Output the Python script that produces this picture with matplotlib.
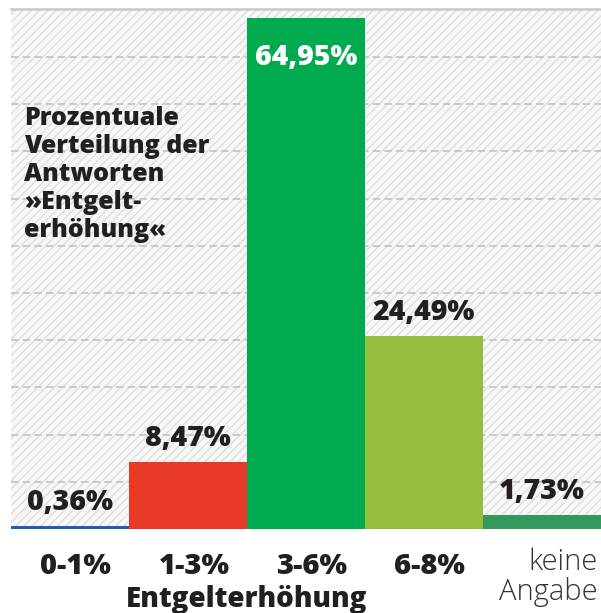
import matplotlib.pyplot as plt
from matplotlib.patches import Rectangle
from matplotlib.transforms import blended_transform_factory

# Data
categories = ['0-1%', '1-3%', '3-6%', '6-8%', 'keine\nAngabe']
values = [0.36, 8.47, 64.95, 24.49, 1.73]
value_labels = ['0,36%', '8,47%', '64,95%', '24,49%', '1,73%']
colors = ['#1f5fae', '#e83a26', '#00aa4e', '#96bd3d', '#34985c']
grid_steps = [6, 12, 18, 24, 30, 36, 42, 48, 54, 60]

title = 'Prozentuale\nVerteilung der\nAntworten\n»Entgelt-\nerhöhung«'
xlabel = 'Entgelterhöhung'

ink = '#231f20'
plt.rcParams['font.family'] = ['Open Sans', 'DejaVu Sans']
plt.rcParams['hatch.linewidth'] = 0.9
plt.rcParams['hatch.color'] = '#dcdcdc'

fig = plt.figure(figsize=(6.01, 6.13), dpi=100)
ax = fig.add_axes([11 / 601, 84 / 613, 590 / 601, 520 / 613])

# hatched background
ax.add_patch(Rectangle((0, 0), 1, 1, transform=ax.transAxes, facecolor='#f7f7f7',
                       edgecolor='#dcdcdc', hatch='////', linewidth=0, zorder=0))

for g in grid_steps:
    ax.axhline(g, color='#c9bfc1', lw=1.2, ls=(0, (4.5, 2.5)), zorder=1)

x = list(range(len(categories)))
bars = ax.bar(x, values, width=1.0, color=colors, zorder=2, linewidth=0)

ax.set_xlim(-0.5, 4.5)
ax.set_ylim(0, 66.1)
ax.set_xticks([])
ax.set_yticks([])
for s in ['left', 'right', 'bottom']:
    ax.spines[s].set_visible(False)
ax.spines['top'].set_color('#c8c8c8')
ax.spines['top'].set_linewidth(1.8)

# value labels
for i, (v, lab) in enumerate(zip(values, value_labels)):
    if i == 2:
        ax.annotate(lab, (i, v), xytext=(0, -18), textcoords='offset points',
                    ha='center', va='top', fontsize=20.5, fontweight='heavy',
                    color='white', zorder=4)
    else:
        ax.annotate(lab, (i, v), xytext=(0, 12), textcoords='offset points',
                    ha='center', va='baseline', fontsize=20.5, fontweight='heavy',
                    color=ink, zorder=4)

# category labels
trans = blended_transform_factory(ax.transData, ax.transAxes)
for i, c in enumerate(categories[:-1]):
    ax.text(i + 0.05, -0.045, c, transform=trans, ha='center', va='top',
            fontsize=21, fontweight='heavy', color=ink)
ax.text(4.47, -0.035, categories[-1], transform=trans, ha='right', va='top',
        fontsize=21, fontweight='light', color='#333333', linespacing=1.0)
ax.text(1.5, -0.107, xlabel, transform=trans, ha='center', va='top',
        fontsize=20, fontweight='heavy', color=ink)

ax.text(24 / 601, 1 - 106 / 613, title, transform=fig.transFigure, ha='left', va='top',
        fontsize=18, fontweight='heavy', color=ink, linespacing=1.16, zorder=4)

fig.savefig('out.png', dpi=100)
